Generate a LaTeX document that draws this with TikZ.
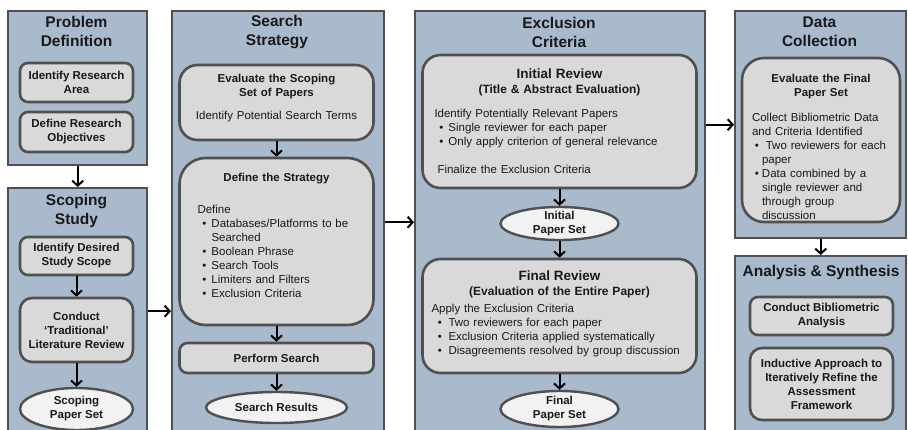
\documentclass[tikz,border=0pt]{standalone}
\usepackage{fontspec}
\setmainfont{Liberation Sans}
\usetikzlibrary{arrows.meta,shapes.geometric}
\definecolor{panelblue}{HTML}{A9BACD}
\definecolor{boxgray}{HTML}{D9D9D9}
\definecolor{setwhite}{HTML}{F2F2F2}
\definecolor{edgegray}{HTML}{505050}
\newcommand{\paneltitlefont}{\fontsize{15.5}{19}\selectfont\bfseries}
\newcommand{\boxheadfont}{\fontsize{13.5}{16}\selectfont\bfseries}
\newcommand{\boxsubfont}{\fontsize{12}{15}\selectfont\bfseries}
\newcommand{\stepfont}{\fontsize{11.5}{14}\selectfont\bfseries}
\newcommand{\bodyfont}{\fontsize{11.5}{14}\selectfont}
\newcommand{\bul}[1][14pt]{\makebox[#1][c]{\textbullet}}
\setlength{\parindent}{0pt}

\begin{document}
\begin{tikzpicture}[x=1pt,y=-1pt,
  panel/.style={draw=edgegray,line width=2.4pt,fill=panelblue,anchor=north west,inner sep=0pt},
  ptitle/.style={align=center,font=\paneltitlefont,text=black!90},
  stepbox/.style={draw=edgegray,line width=2.6pt,fill=boxgray,rounded corners=8pt,align=center,font=\stepfont,text=black!90,inner sep=0pt},
  bigbox/.style={stepbox,rounded corners=18pt,align=left,font=\bodyfont},
  paperset/.style={ellipse,draw=edgegray,line width=2.4pt,fill=setwhite,align=center,font=\stepfont,text=black!90,inner sep=0pt,inner ysep=-3pt},
  flow/.style={-{Straight Barb[length=5pt,width=11pt]},line width=2pt}]
  \useasboundingbox (0,0) rectangle (908,429);

  \node[panel,minimum width=139,minimum height=154] (probdef) at (7,10) {};
  \node[ptitle] (probdeft) at (76.5,31.5) {Problem\\Definition};
  \node[stepbox,minimum width=113,minimum height=39] (idarea) at (76.5,82.5) {Identify Research\\Area};
  \node[stepbox,minimum width=113,minimum height=40] (defobj) at (76.5,132) {Define Research\\Objectives};

  \node[panel,minimum width=139,minimum height=246] (scoping) at (7,187) {};
  \node[ptitle] (scopingt) at (76.5,211) {Scoping\\Study};
  \node[stepbox,minimum width=113,minimum height=38] (scope) at (76.5,256) {Identify Desired\\Study Scope};
  \node[stepbox,rounded corners=12pt,minimum width=113,minimum height=64] (conduct) at (76.5,330) {Conduct\\`Traditional'\\Literature Review};
  \node[paperset,minimum width=113,minimum height=42] (scopingset) at (76.5,409) {Scoping\\Paper Set};

  \node[panel,minimum width=212,minimum height=422] (search) at (171,10) {};
  \node[ptitle] (searcht) at (277,32) {Search\\Strategy};
  \node[bigbox,minimum width=194,minimum height=75,text width=184] (evalscope) at (276.5,102.5) {%
    {\centering\stepfont Evaluate the Scoping\par Set of Papers\par}\vspace{9pt}
    {\centering Identify Potential Search Terms\par}\vspace{9pt}};
  \node[bigbox,rounded corners=26pt,minimum width=194,minimum height=167,text width=158] (defstrat) at (276.5,241.5) {%
    {\centering\stepfont Define the Strategy\par}\vspace{18pt}
    Define\par
    \bul Databases/Platforms to be\par
    \hspace*{14pt}Searched\par
    \bul Boolean Phrase\par
    \bul Search Tools\par
    \bul Limiters and Filters\par
    \bul Exclusion Criteria\par\vspace{12pt}};
  \node[stepbox,minimum width=194,minimum height=30] (perform) at (276.5,358) {Perform Search};
  \node[paperset,minimum width=141,minimum height=31] (results) at (276.5,407.5) {Search Results};

  \node[panel,minimum width=290,minimum height=422] (exclusion) at (414,10) {};
  \node[ptitle] (exclusiont) at (559,32) {Exclusion\\Criteria};
  \node[bigbox,minimum width=274,minimum height=133,text width=250] (initrev) at (559.5,121.5) {%
    {\centering\boxheadfont Initial Review\par\boxsubfont (Title \& Abstract Evaluation)\par}\vspace{10pt}
    Identify Potentially Relevant Papers\par
    \bul Single reviewer for each paper\par
    \bul Only apply criterion of general relevance\par\vspace{14pt}
    \hspace*{3pt}Finalize the Exclusion Criteria};
  \node[paperset,minimum width=118,minimum height=33] (initset) at (559.5,223.5) {Initial\\Paper Set};
  \node[bigbox,minimum width=274,minimum height=114,text width=256] (finrev) at (559.5,316) {%
    {\centering\boxheadfont Final Review\par\boxsubfont (Evaluation of the Entire Paper)\par}\vspace{3pt}
    Apply the Exclusion Criteria\par
    \bul[17pt]Two reviewers for each paper\par
    \bul[17pt]Exclusion Criteria applied systematically\par
    \bul[17pt]Disagreements resolved by group discussion\par\vspace{5pt}};
  \node[paperset,minimum width=118,minimum height=36] (finset) at (559.5,409) {Final\\Paper Set};

  \node[panel,minimum width=171,minimum height=227] (datacol) at (734,10) {};
  \node[ptitle] (datacolt) at (819.5,32) {Data\\Collection};
  \node[bigbox,rounded corners=22pt,minimum width=158,minimum height=164,text width=138] (evalfinal) at (821,140) {%
    \par\vspace*{9pt}
    {\centering\stepfont Evaluate the Final\par Paper Set\par}\vspace{11pt}
    Collect Bibliometric Data\par
    and Criteria Identified\par
    \bul[10pt] Two reviewers for each\par
    \hspace*{10pt}paper\par
    \bul[10pt]Data combined by a\par
    \hspace*{10pt}single reviewer and\par
    \hspace*{10pt}through group\par
    \hspace*{10pt}discussion};

  \node[panel,minimum width=171,minimum height=180] (analysis) at (734,255) {};
  \node[ptitle] (analysist) at (821,272) {Analysis \& Synthesis};
  \node[stepbox,minimum width=143,minimum height=38] (biblio) at (821.5,316) {Conduct Bibliometric\\Analysis};
  \node[stepbox,rounded corners=12pt,minimum width=143,minimum height=72] (induct) at (821.5,384) {Inductive Approach to\\Iteratively Refine the\\Assessment\\Framework};

  \draw[flow] (probdef.south) -- (scoping.north);
  \draw[flow] (scope.south) -- (conduct.north);
  \draw[flow] (conduct.south) -- (scopingset.north);
  \draw[flow] (scoping.east) -- (search.west |- scoping.east);
  \draw[flow] (evalscope.south) -- (defstrat.north);
  \draw[flow] (defstrat.south) -- (perform.north);
  \draw[flow] (perform.south) -- (results.north);
  \draw[flow] (search.east) -- (exclusion.west |- search.east);
  \draw[flow] (initrev.south) -- (initset.north);
  \draw[flow] (initset.south) -- (finrev.north);
  \draw[flow] (finrev.south) -- (finset.north);
  \draw[flow] (exclusion.east |- datacol.west) -- (datacol.west);
  \draw[flow] (datacol.south) -- (analysis.north);
\end{tikzpicture}
\end{document}
